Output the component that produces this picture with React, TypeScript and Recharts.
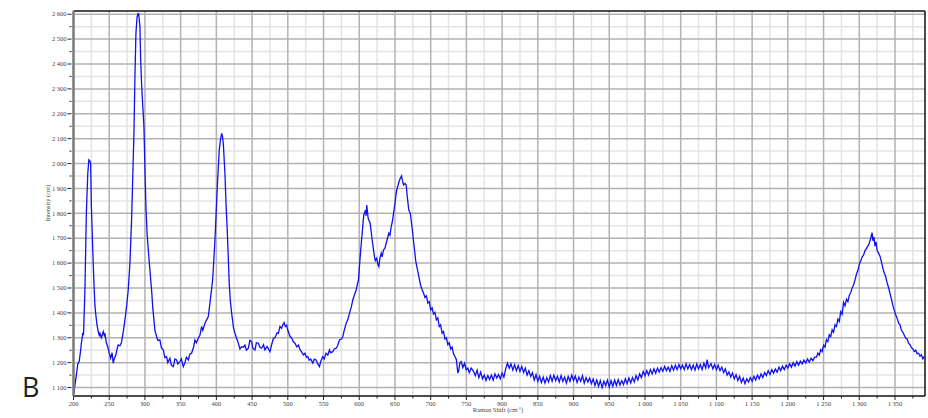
import { LineChart, Line, XAxis, YAxis, CartesianGrid, ReferenceLine } from "recharts"

// Raman spectrum: [shift cm-1, intensity cnt]
const lowBands: [number, number][] = [
  [200, 1068], [202, 1110], [204, 1150], [206, 1195], [208, 1205], [210, 1250], [211, 1278], [213, 1320],
  [214, 1310], [216, 1490], [218, 1800], [220, 1960], [221.5, 2015], [223, 2010], [224, 2000], [225, 1830],
  [227, 1650], [228.6, 1520], [230, 1430], [231, 1398], [233, 1350], [234.6, 1325], [236, 1310], [237, 1318],
  [239, 1300], [241.6, 1325], [243, 1310], [244, 1318], [246, 1280], [248, 1262], [250, 1238], [252, 1218],
  [254, 1240], [255.6, 1198], [257, 1215], [259.4, 1232], [261, 1255], [262.6, 1271], [265, 1268], [267, 1280],
  [270, 1330], [272, 1372], [274.5, 1430], [276.6, 1492], [279, 1600], [281.3, 1773], [283, 1950], [284.6, 2121],
  [286, 2350], [287.4, 2523], [289, 2590], [290, 2598], [291, 2605], [292, 2580], [293, 2549], [294, 2420],
  [295.3, 2322], [297, 2230], [298.6, 2148], [300, 1980], [301.4, 1826], [303, 1720], [304.7, 1653], [307, 1570],
  [309.3, 1492], [311, 1420], [312.6, 1372], [314, 1330], [316.3, 1305], [318, 1290], [321, 1291], [323, 1260],
  [325.7, 1251], [328, 1220], [330.3, 1224], [332, 1200], [335, 1218], [337, 1190], [339.7, 1184], [342, 1215],
  [344.3, 1211], [346, 1195], [349, 1204], [351, 1215], [353.7, 1184], [356, 1200], [358, 1222], [360.7, 1211],
  [363, 1235], [365.3, 1238], [368, 1262], [370, 1291], [372, 1280], [374.7, 1298], [377, 1310], [379.3, 1345],
  [381, 1330], [384, 1358], [386, 1370], [388.7, 1385], [391, 1439], [394.8, 1532], [398, 1693], [401.3, 1907],
  [404, 2054], [406, 2100], [407.4, 2121], [408.5, 2110], [409.7, 2081], [412, 1960], [413.5, 1840], [415.4, 1720],
  [418, 1519], [419.5, 1450], [421.4, 1398], [424, 1340], [426, 1318], [428, 1300], [430.8, 1278], [433, 1255],
  [435.4, 1264], [438, 1262],
]

const midBands: [number, number][] = [
  [440, 1271], [442, 1250], [444.8, 1258], [447, 1290], [449.4, 1284], [451, 1258], [454, 1251], [456, 1280],
  [458.8, 1278], [461, 1262], [463.4, 1258], [466, 1272], [468, 1251], [471, 1265], [475, 1244], [477, 1268],
  [479.8, 1298], [482, 1300], [485, 1320], [486.8, 1318], [489, 1345], [491.4, 1338], [493, 1352], [494.8, 1361],
  [496.5, 1345], [498.4, 1351], [500, 1330], [503.2, 1305], [505, 1300], [507.8, 1284], [510, 1278], [512.5, 1264],
  [515, 1270], [517.2, 1251], [519, 1244], [521.8, 1231], [524, 1238], [526, 1222], [528, 1224], [530, 1210],
  [532, 1215], [535, 1198], [537, 1214], [539.6, 1211], [542, 1195], [544.3, 1184], [546, 1204], [548.9, 1224],
  [551, 1215], [553.6, 1238], [556, 1230], [558.3, 1251], [560, 1240], [563, 1244], [565, 1255], [567.6, 1258],
  [570, 1270], [572.3, 1291], [575, 1295], [577, 1305], [579, 1330], [581.7, 1358], [584, 1372], [586.3, 1398],
  [589, 1425], [591, 1452], [593, 1470], [595.7, 1492], [597, 1510], [598.9, 1532], [601.3, 1626], [604.1, 1720],
  [606.3, 1793], [608.7, 1813], [609.6, 1790], [610.5, 1833], [612.5, 1780], [615.3, 1760], [618.1, 1693], [621.3, 1626],
  [622.5, 1610], [624.5, 1620], [626, 1595], [627.4, 1586], [629, 1620], [630.7, 1639], [632, 1625], [634, 1653],
  [636, 1660], [637.7, 1680], [640, 1705], [641.4, 1720], [643, 1712], [644.7, 1746], [646.5, 1770], [648, 1800],
  [650, 1840], [651.7, 1880], [653, 1900], [654.5, 1914], [656, 1930], [657.3, 1940], [659.2, 1950], [660.5, 1930],
  [662, 1914], [664, 1920], [665.7, 1914], [667.5, 1860], [669.4, 1813], [671.5, 1800], [674.1, 1740], [675.5, 1700],
  [677.4, 1653], [679, 1610], [680.6, 1586], [682.5, 1560], [684.4, 1532], [686, 1510], [688.2, 1492], [690, 1480],
  [692, 1462], [694, 1468], [696, 1440], [698, 1445], [700, 1412], [702, 1420], [704, 1395], [706, 1402],
  [708, 1372], [710, 1380], [712, 1345], [714, 1352], [716, 1318], [718, 1325], [720, 1295], [722, 1300],
  [724, 1272], [726, 1280], [728, 1255], [730, 1262], [732, 1235], [734, 1225], [736, 1212], [738, 1158],
  [739.4, 1170], [741, 1200], [742.8, 1204], [745, 1180], [747.4, 1198], [749.8, 1171], [752, 1178], [754, 1160],
  [756.8, 1178],
]

const baseline: [number, number][] = [
  [760, 1165], [762.5, 1148], [765, 1170], [767.5, 1140], [770, 1162], [772.5, 1135], [775, 1150], [777.5, 1128],
  [780, 1148], [782.5, 1132], [785, 1150], [787.5, 1130], [790, 1155], [792.5, 1138], [795, 1152], [797.5, 1135],
  [800, 1158], [802.5, 1142], [805, 1175], [807.5, 1198], [810, 1178], [812.5, 1195], [815, 1170], [817.5, 1192],
  [820, 1168], [822.5, 1188], [825, 1165], [827.5, 1185], [830, 1160], [832.5, 1178], [835, 1150], [837.5, 1168],
  [840, 1145], [842.5, 1160], [845, 1130], [847.5, 1152], [850, 1125], [852.5, 1145], [855, 1120], [857.5, 1142],
  [860, 1118], [862.5, 1140], [865, 1122], [867.5, 1148], [870, 1125], [872.5, 1150], [875, 1128], [877.5, 1145],
  [880, 1122], [882.5, 1148], [885, 1125], [887.5, 1142], [890, 1118], [892.5, 1145], [895, 1125], [897.5, 1150],
  [900, 1128], [902.5, 1146], [905, 1120], [907.5, 1142], [910, 1125], [912.5, 1148], [915, 1118], [917.5, 1140],
  [920, 1122], [922.5, 1138], [925, 1115], [927.5, 1135], [930, 1108], [932.5, 1130], [935, 1105], [937.5, 1128],
  [940, 1100], [942.5, 1125], [945, 1108], [947.5, 1130], [950, 1102], [952.5, 1128], [955, 1105], [957.5, 1130],
  [960, 1108], [962.5, 1132], [965, 1110], [967.5, 1128], [970, 1112], [972.5, 1135], [975, 1115], [977.5, 1138],
  [980, 1118], [982.5, 1140], [985, 1122], [987.5, 1148], [990, 1130], [992.5, 1155], [995, 1140], [997.5, 1165],
  [1000, 1148], [1002.5, 1168], [1005, 1150], [1007.5, 1172], [1010, 1155], [1012.5, 1175], [1015, 1158], [1017.5, 1178],
  [1020, 1162], [1022.5, 1180], [1025, 1165], [1027.5, 1185], [1030, 1168], [1032.5, 1182], [1035, 1165], [1037.5, 1188],
  [1040, 1170], [1042.5, 1190], [1045, 1172], [1047.5, 1192], [1050, 1175], [1052.5, 1190], [1055, 1172], [1057.5, 1195],
  [1060, 1175], [1062.5, 1192], [1065, 1172], [1067.5, 1190], [1070, 1170], [1072.5, 1195], [1075, 1175], [1077.5, 1192],
  [1080, 1172], [1082.5, 1198], [1085, 1178], [1087, 1212], [1089, 1180], [1092.5, 1196], [1095, 1175], [1097.5, 1192],
  [1100, 1172], [1102.5, 1190], [1105, 1168], [1107.5, 1182], [1110, 1160], [1112.5, 1175], [1115, 1150], [1117.5, 1162],
  [1120, 1142], [1122.5, 1158], [1125, 1135], [1127.5, 1152], [1130, 1128], [1132.5, 1145], [1135, 1120], [1137.5, 1138],
  [1140, 1115], [1142.5, 1135], [1145, 1122], [1147.5, 1140], [1150, 1125], [1152.5, 1145], [1155, 1130], [1157.5, 1150],
  [1160, 1135], [1162.5, 1155], [1165, 1140], [1167.5, 1160], [1170, 1148], [1172.5, 1168], [1175, 1152], [1177.5, 1172],
  [1180, 1158], [1182.5, 1175], [1185, 1162], [1187.5, 1182], [1190, 1168], [1192.5, 1186], [1195, 1172], [1197.5, 1190],
  [1200, 1178], [1202.5, 1196], [1205, 1182], [1207.5, 1200], [1210, 1186], [1212.5, 1204], [1215, 1190], [1217.5, 1206],
  [1220, 1195], [1222.5, 1210], [1225, 1198], [1227.5, 1215], [1230, 1202], [1232.5, 1218], [1235, 1208], [1237.5, 1222],
]

const highBand: [number, number][] = [
  [1240, 1222], [1242, 1238], [1244, 1230], [1246, 1252], [1248, 1245], [1250, 1270], [1252, 1262], [1254, 1292],
  [1256, 1285], [1258, 1312], [1260, 1305], [1262, 1332], [1264, 1322], [1266, 1352], [1268, 1345], [1270, 1375],
  [1272, 1365], [1274, 1405], [1276, 1395], [1278, 1442], [1280, 1428], [1282, 1455], [1284, 1445], [1286, 1470],
  [1288, 1482], [1290, 1500], [1292, 1512], [1294, 1532], [1296, 1555], [1298, 1570], [1300, 1595], [1302, 1608],
  [1304, 1625], [1306, 1632], [1308, 1650], [1310, 1658], [1312, 1668], [1314, 1680], [1315.5, 1695], [1317, 1712],
  [1318, 1722], [1319, 1690], [1320.5, 1705], [1322, 1668], [1323.5, 1685], [1325, 1650], [1327, 1640], [1329, 1628],
  [1331, 1605], [1333, 1580], [1335, 1560], [1337, 1545], [1339, 1520], [1341, 1502], [1343, 1478], [1345, 1455],
  [1347, 1430], [1349, 1410], [1351, 1392], [1353, 1378], [1355, 1360], [1357, 1352], [1359, 1330], [1361, 1322],
  [1363, 1310], [1365, 1298], [1367, 1295], [1369, 1278], [1371, 1272], [1373, 1260], [1375, 1255], [1377, 1245],
  [1379, 1250], [1381, 1236], [1383, 1238], [1385, 1226], [1387, 1232], [1389, 1215], [1391, 1225],
]

const xLabelTicks = [200, 250, 300, 350, 400, 450, 500, 550, 600, 650, 700, 750, 800, 850, 900, 950, 1000, 1050, 1100, 1150, 1200, 1250, 1300, 1350]
const yLabelTicks = [1100, 1200, 1300, 1400, 1500, 1600, 1700, 1800, 1900, 2000, 2100, 2200, 2300, 2400, 2500, 2600]

const X_MIN = 200
const X_MAX = 1392
const Y_MIN = 1066
const Y_MAX = 2613

const data = [...lowBands, ...midBands, ...baseline, ...highBand].map(([shift, intensity]) => ({ shift, intensity }))

const xMinor = xLabelTicks.map((v) => v + 25).filter((v) => v < X_MAX)
const yMinor = yLabelTicks.map((v) => v + 50).filter((v) => v < Y_MAX)
const xAll = [...xLabelTicks, ...xMinor].sort((a, b) => a - b)
const yAll = [...yLabelTicks, ...yMinor].sort((a, b) => a - b)

const fmt = (v: number) => (v >= 1000 ? `${Math.floor(v / 1000)} ${String(v % 1000).padStart(3, "0")}` : String(v))

const tickFont = "'Liberation Serif', serif"

const XTick = (props: any) => {
  const { x, y, payload } = props
  const major = payload.value % 50 === 0
  return (
    <g>
      <line x1={x} x2={x} y1={y} y2={y + (major ? 4 : 2.5)} stroke="#222" strokeWidth={1} />
      {major && (
        <text x={x} y={y + 9.5} textAnchor="middle" fontSize={6.5} fill="#444" fontFamily={tickFont}>
          {fmt(payload.value)}
        </text>
      )}
    </g>
  )
}

const YTick = (props: any) => {
  const { x, y, payload } = props
  const major = payload.value % 100 === 0
  return (
    <g>
      <line x1={x - 2} x2={x - (major ? 6 : 4)} y1={y} y2={y} stroke="#222" strokeWidth={1} />
      {major && (
        <text x={x - 7} y={y + 2.2} textAnchor="end" fontSize={6.5} fill="#444" fontFamily={tickFont}>
          {fmt(payload.value)}
        </text>
      )}
    </g>
  )
}

export default function App() {
  return (
    <div style={{ position: "absolute", left: 0, top: 0, width: 928, height: 418, background: "#fff" }}>
      <LineChart width={928} height={418} data={data} margin={{ top: 11, right: 3, left: 13.5, bottom: 0 }}>
        <CartesianGrid verticalValues={xMinor} horizontalValues={yMinor} stroke="#e4e4e4" strokeWidth={1.5} />
        <CartesianGrid verticalValues={xLabelTicks} horizontalValues={yLabelTicks} stroke="#b2b2b2" strokeWidth={1.5} />
        <XAxis
          dataKey="shift"
          type="number"
          domain={[X_MIN, X_MAX]}
          allowDataOverflow
          ticks={xAll}
          interval={0}
          height={22}
          tickSize={0}
          tickMargin={0}
          tickLine={false}
          axisLine={{ stroke: "#111", strokeWidth: 1.5 }}
          tick={<XTick />}
        />
        <YAxis
          type="number"
          domain={[Y_MIN, Y_MAX]}
          allowDataOverflow
          ticks={yAll}
          interval={0}
          width={60}
          tickSize={0}
          tickMargin={0}
          tickLine={false}
          axisLine={{ stroke: "#7c7c7c", strokeWidth: 2.5 }}
          tick={<YTick />}
        />
        <ReferenceLine y={Y_MAX} stroke="#111" strokeWidth={1.5} />
        <ReferenceLine x={X_MAX} stroke="#111" strokeWidth={1.5} />
        <Line
          type="linear"
          dataKey="intensity"
          stroke="#1010f0"
          strokeWidth={1.3}
          dot={false}
          isAnimationActive={false}
        />
      </LineChart>
      <svg width={928} height={418} style={{ position: "absolute", left: 0, top: 0, pointerEvents: "none" }}>
        <text
          x={50}
          y={203}
          transform="rotate(-90 50 203)"
          textAnchor="middle"
          fontSize={6.5}
          fill="#444"
          fontFamily={tickFont}
        >
          Intensity (cnt)
        </text>
        <text x={498} y={412} textAnchor="middle" fontSize={6.5} fill="#444" fontFamily={tickFont}>
          Raman Shift (cm
          <tspan fontSize={4.5} dy={-2.5}>-1</tspan>
          <tspan dy={2.5}>)</tspan>
        </text>
        <text x={22} y={397} fontSize={27} fill="#222" fontFamily="'Open Sans', sans-serif">
          B
        </text>
      </svg>
    </div>
  )
}
